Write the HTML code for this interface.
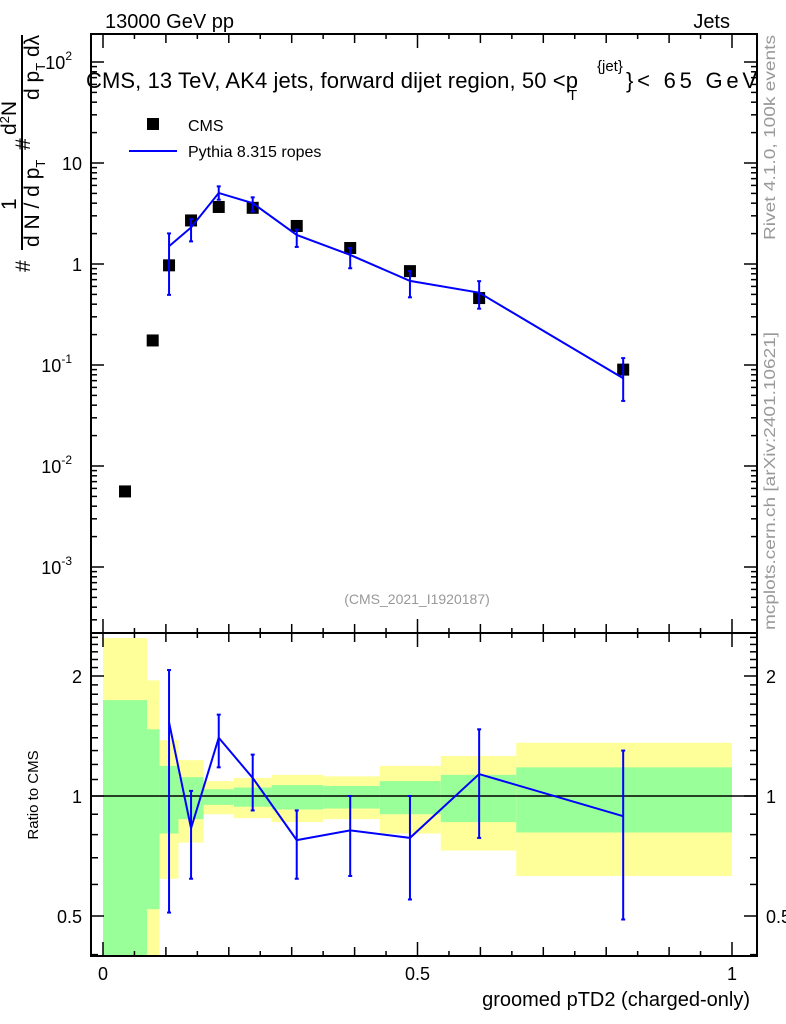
<!DOCTYPE html>
<html><head><meta charset="utf-8"><style>
body{margin:0;background:#fff}
svg{display:block;font-family:"Liberation Sans",sans-serif}
</style></head><body>
<svg id="chart" width="786" height="1024" viewBox="0 0 786 1024">
<g id="bands"></g>
<g id="ticks"></g>
<g id="marks"></g>
<rect x="91" y="34" width="666" height="599" fill="none" stroke="#000" stroke-width="2"/>
<rect x="91" y="633" width="666" height="323" fill="none" stroke="#000" stroke-width="2"/>
<text x="105" y="28" font-size="20">13000 GeV pp</text>
<text x="730" y="28" font-size="20" text-anchor="end">Jets</text>
<g font-size="22">
<text x="86" y="88" textLength="492" lengthAdjust="spacing">CMS, 13 TeV, AK4 jets, forward dijet region, 50 &lt;p</text>
<text x="597" y="71" font-size="15">{jet}</text>
<text x="568" y="100" font-size="15">T</text>
<text x="626" y="88" textLength="131" lengthAdjust="spacing">}&lt; 65 GeV</text>
</g>
<g>
<rect x="147" y="118" width="12" height="12" fill="#000"/>
<text x="188" y="131" font-size="16">CMS</text>
<line x1="129" y1="151" x2="177" y2="151" stroke="#00f" stroke-width="2"/>
<text x="188" y="157" font-size="16">Pythia 8.315 ropes</text>
</g>
<text x="417" y="604" font-size="14" fill="#999" text-anchor="middle">(CMS_2021_I1920187)</text>
<g font-size="21">
<line x1="22" y1="35" x2="22" y2="250" stroke="#000" stroke-width="2"/>
<text transform="translate(30,272) rotate(-90)">#</text>
<text transform="translate(16,135) rotate(-90)"><tspan>d</tspan><tspan font-size="13" dy="-7">2</tspan><tspan dy="7">N</tspan></text>
<text transform="translate(16,210) rotate(-90)">1</text>
<text transform="translate(39,247) rotate(-90)">d N / d p<tspan font-size="13" dy="6">T</tspan></text>
<text transform="translate(39,100) rotate(-90)">d p<tspan font-size="13" dy="6">T</tspan><tspan dy="-6"> d</tspan>λ</text>
<text transform="translate(30,150) rotate(-90)">#</text>
</g>
<text transform="translate(38,795) rotate(-90)" font-size="15" text-anchor="middle">Ratio to CMS</text>
<text x="750" y="1006" font-size="20" text-anchor="end">groomed pTD2 (charged-only)</text>
<text transform="translate(775,240) rotate(-90)" font-size="16" fill="#999" textLength="205" lengthAdjust="spacingAndGlyphs">Rivet 4.1.0,  100k events</text>
<text transform="translate(775,630) rotate(-90)" font-size="16" fill="#999" textLength="298" lengthAdjust="spacingAndGlyphs">mcplots.cern.ch [arXiv:2401.10621]</text>
</svg>
<script>
const xVals=[0.035,0.079,0.105,0.14,0.184,0.238,0.308,0.393,0.488,0.598,0.827];
const cmsVals=[0.0056,0.175,0.97,2.7,3.67,3.6,2.38,1.44,0.85,0.46,0.09];
const mcX=[0.105,0.14,0.184,0.238,0.308,0.393,0.488,0.598,0.827];
const mcVals=[1.5,2.3,5.05,4.0,1.94,1.23,0.68,0.52,0.074];
const ratioVals=[1.53,0.83,1.40,1.11,0.775,0.82,0.785,1.135,0.89];
const ratioHi=[2.07,1.03,1.6,1.27,0.92,1.0,1.0,1.47,1.3];
const ratioLo=[0.51,0.62,1.18,0.92,0.62,0.63,0.55,0.785,0.49];
const binEdges=[0,0.07,0.09,0.12,0.16,0.208,0.268,0.35,0.44,0.537,0.657,1.0];
const yelHi=[2.49,1.95,1.38,1.23,1.09,1.11,1.13,1.12,1.19,1.26,1.36];
const grnHi=[1.74,1.47,1.19,1.115,1.04,1.05,1.065,1.06,1.09,1.13,1.18];
const grnLo=[0.3,0.52,0.805,0.875,0.95,0.94,0.925,0.93,0.9,0.86,0.81];
const yelLo=[0.3,0.3,0.62,0.764,0.9,0.88,0.86,0.875,0.805,0.73,0.63];
const decadeLabels=[["10","-3"],["10","-2"],["10","-1"],["1",""],["10",""],["10","2"]];
const xTickLabels=["0","0.5","1"];

const NS="http://www.w3.org/2000/svg";
const X=v=>103+629*v;
const Y=v=>264-101*Math.log10(v);
const R=v=>796-120*Math.log2(v);
function mk(tag,attrs,parent){const e=document.createElementNS(NS,tag);for(const k in attrs)e.setAttribute(k,attrs[k]);parent.appendChild(e);return e;}
const bands=document.getElementById('bands'),ticks=document.getElementById('ticks'),marks=document.getElementById('marks');
const clamp=(y,a,b)=>Math.max(a,Math.min(b,y));
for(let i=0;i<yelHi.length;i++){
  const x0=X(binEdges[i]),x1=X(binEdges[i+1]);
  const y1=clamp(R(yelHi[i]),634,955),y2=clamp(R(yelLo[i]),634,955);
  const r1=mk('rect',{x:x0,y:y1,width:x1-x0,height:y2-y1,fill:'#ffff99'},bands);
  
  
  const g1=clamp(R(grnHi[i]),634,955),g2=clamp(R(grnLo[i]),634,955);
  const r2=mk('rect',{x:x0,y:g1,width:x1-x0,height:g2-g1,fill:'#99ff99'},bands);
  
  
}
for(let k=0;k<=20;k++){
  const v=k*0.05,x=X(v),len=(k%10==0)?14:(k%2==0?9:5);
  [[34,1],[633,-1],[633,1],[956,-1]].forEach(([y,d])=>mk('line',{x1:x,y1:y,x2:x,y2:y+d*len,stroke:'#000','stroke-width':1.5},ticks));
}
xTickLabels.forEach((t,i)=>{const e=mk('text',{x:X(i*0.5),y:980,'font-size':18,'text-anchor':'middle'},ticks);e.textContent=t;
  
  });
for(let d=-4;d<=2;d++){for(let m=1;m<10;m++){const v=m*Math.pow(10,d),y=Y(v);if(y<35||y>632)continue;const len=m==1?13:6;
  mk('line',{x1:91,y1:y,x2:91+len,y2:y,stroke:'#000','stroke-width':1.5},ticks);
  mk('line',{x1:757,y1:y,x2:757-len,y2:y,stroke:'#000','stroke-width':1.5},ticks);}}
decadeLabels.forEach((l,i)=>{const y=Y(Math.pow(10,i-3));const e=mk('text',{x:l[1]?72:82,y:y+7,'font-size':18,'text-anchor':'end'},ticks);
  
  
  e.textContent=l[0];if(l[1]){const s=mk('tspan',{'font-size':12,dy:-9},e);s.textContent=l[1];}});
[0.4,0.5,0.6,0.7,0.8,0.9,1,1.1,1.2,1.3,1.4,1.5,1.6,1.7,1.8,1.9,2,2.1,2.2,2.3,2.4,2.5].forEach(v=>{const y=R(v);if(y<634||y>955)return;const len=[0.5,1,2].includes(v)?13:7;
  mk('line',{x1:91,y1:y,x2:91+len,y2:y,stroke:'#000','stroke-width':1.5},ticks);
  mk('line',{x1:757,y1:y,x2:757-len,y2:y,stroke:'#000','stroke-width':1.5},ticks);});
[[0.5,'0.5'],[1,'1'],[2,'2']].forEach(([v,t])=>{const y=R(v)+7;
  const a=mk('text',{x:82,y:y,'font-size':18,'text-anchor':'end'},ticks);a.textContent=t;
  
  
  const b=mk('text',{x:766,y:y,'font-size':18},ticks);b.textContent=t;
  
  });
mk('line',{x1:91,y1:R(1),x2:757,y2:R(1),stroke:'#000','stroke-width':1.5},marks);
xVals.forEach((x,i)=>{const r=mk('rect',{x:X(x)-6,y:Y(cmsVals[i])-6,width:12,height:12,fill:'#000'},marks);
  
  });
const mp=mk('polyline',{points:mcX.map((x,i)=>X(x)+','+Y(mcVals[i])).join(' '),fill:'none',stroke:'#00f','stroke-width':2},marks);


const rp=mk('polyline',{points:mcX.map((x,i)=>X(x)+','+R(ratioVals[i])).join(' '),fill:'none',stroke:'#00f','stroke-width':2},marks);


mcX.forEach((x,i)=>{const px=X(x);
  const cIdx=xVals.indexOf(x),c=cmsVals[cIdx];
  const bars=[[Y(c*ratioHi[i]),Y(c*ratioLo[i])],[R(ratioHi[i]),R(ratioLo[i])]];
  bars.forEach(([a,b])=>{const l=mk('line',{x1:px,y1:a,x2:px,y2:b,stroke:'#00f','stroke-width':2},marks);
    
    
    mk('line',{x1:px-2,y1:a,x2:px+2,y2:a,stroke:'#00f','stroke-width':2},marks);
    mk('line',{x1:px-2,y1:b,x2:px+2,y2:b,stroke:'#00f','stroke-width':2},marks);});
});
</script>
</body></html>
